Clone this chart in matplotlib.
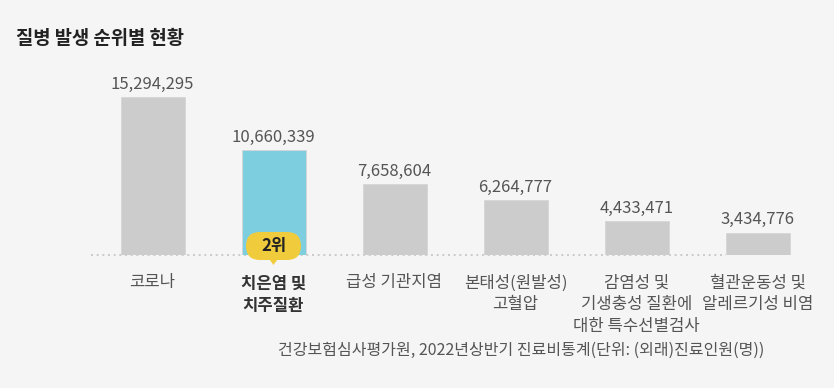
import matplotlib
matplotlib.use("Agg")
import matplotlib.pyplot as plt
from matplotlib.patches import FancyBboxPatch, Polygon
from matplotlib.transforms import ScaledTranslation

plt.rcParams['font.family'] = ['Noto Sans CJK KR', 'DejaVu Sans']

# data
categories = ["코로나", "치은염 및\n치주질환", "급성 기관지염", "본태성(원발성)\n고혈압",
              "감염성 및\n기생충성 질환에\n대한 특수선별검사", "혈관운동성 및\n알레르기성 비염"]
patients = [15294295, 10660339, 7658604, 6264777, 4433471, 3434776]
highlight = 1
rank_label = "2위"
title = "질병 발생 순위별 현황"
source = "건강보험심사평가원, 2022년상반기 진료비통계(단위: (외래)진료인원(명))"

W, H, DPI = 834, 388, 100
bg = "#f5f5f5"
fig = plt.figure(figsize=(W / DPI, H / DPI), dpi=DPI, facecolor=bg)

# axes placed in pixel terms: baseline at y=255, top at y=40
base_px, top_px = 255, 40
ax = fig.add_axes([0, (H - base_px) / H, 1, (base_px - top_px) / H])
ax.set_facecolor(bg)
for s in ax.spines.values():
    s.set_visible(False)
ax.set_xticks([])
ax.set_yticks([])

step = 121.0
first = 152.5
ax.set_xlim(-first / step, (W - first) / step)
ymin = 1.486e6
px_per_val = 11.44 / 1e6
ax.set_ylim(ymin, ymin + (base_px - top_px) / px_per_val)

x = list(range(len(patients)))
colors = ["#7dcfe0" if i == highlight else "#cccccc" for i in x]
ax.bar(x, patients, width=64 / step, color=colors, edgecolor="#d6d6d6",
       linewidth=0.6, zorder=3)

# dotted baseline
ax.hlines(ymin, -62 / step, x[-1] - 32 / step, colors="#c4c4c4",
          linestyles=(0, (1.2, 2.2)), linewidth=1.2, clip_on=False, zorder=2)

# value labels
for i, v in enumerate(patients):
    ax.annotate(f"{v:,}", xy=(i, v), xytext=(0, 6), textcoords="offset points",
                ha="center", va="baseline", fontsize=12, color="#555555")

# category labels
for i, c in enumerate(categories):
    bold = i == highlight
    ax.annotate(c, xy=(i, ymin), xytext=(0, -14), textcoords="offset points",
                ha="center", va="top", fontsize=12, linespacing=1.35,
                color="#333333" if bold else "#555555",
                fontweight="bold" if bold else "normal", annotation_clip=False)

# rank bubble (sizes in inches around the baseline point of the bar)
anchor = fig.dpi_scale_trans + ScaledTranslation(highlight, ymin, ax.transData)
bubble_c = "#f0cb3c"
ax.add_patch(Polygon([(-0.05, -0.03), (0.05, -0.03), (0, -0.10)], closed=True,
                     fc=bubble_c, ec="none", transform=anchor, clip_on=False,
                     zorder=5))
ax.add_patch(FancyBboxPatch((-0.275, -0.05), 0.55, 0.28,
                            boxstyle="round,pad=0,rounding_size=0.14",
                            fc=bubble_c, ec="none", transform=anchor,
                            clip_on=False, zorder=5))
ax.annotate(rank_label, xy=(highlight, ymin), xytext=(0, 6.5),
            textcoords="offset points", ha="center", va="center",
            fontsize=12, fontweight="bold", color="#222222", zorder=6,
            annotation_clip=False)

fig.text(16 / W, 1 - 38 / H, title, ha="left", va="center", fontsize=13.5,
         fontweight="bold", color="#222222")
fig.text(764 / W, 1 - 350 / H, source, ha="right", va="center", fontsize=11.5,
         color="#555555")

fig.savefig("out.png", dpi=DPI, facecolor=bg)
